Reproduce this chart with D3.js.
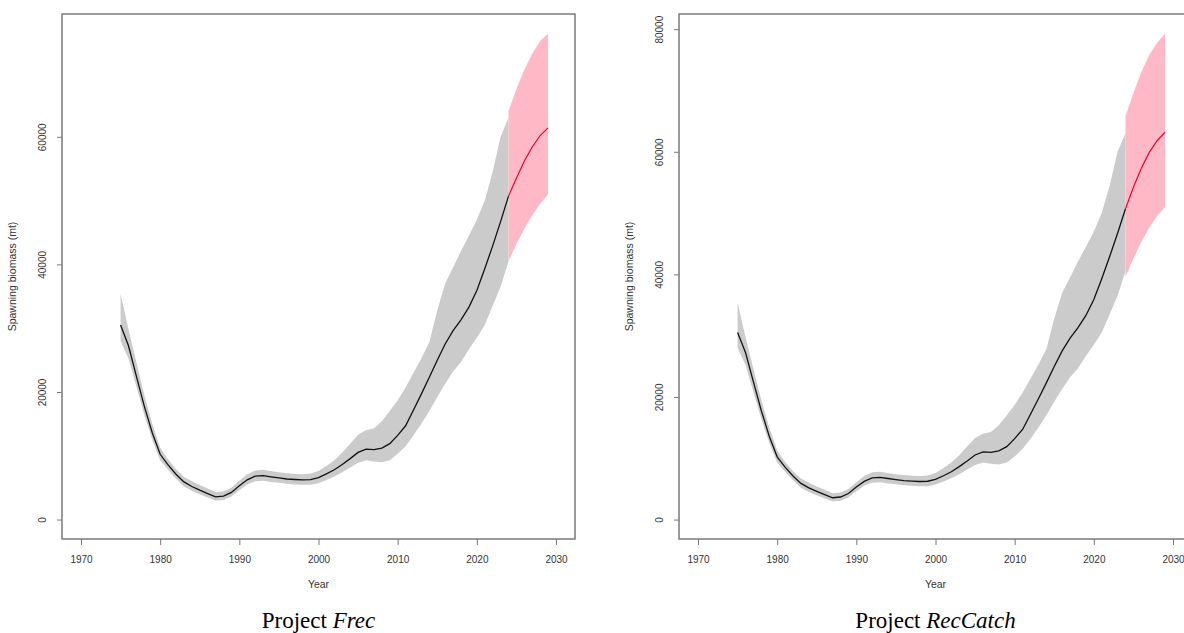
<!DOCTYPE html>
<html lang="en">
<head>
  <meta charset="utf-8">
  <title>Spawning biomass projections</title>
  <style>
    body { margin: 0; background: #fff; }
    .tick text { font-family: "Liberation Sans", Arial, sans-serif; font-size: 10px; fill: #333; }
    .tick line { stroke: #777; stroke-width: 1px; }
    .axis-title { font-family: "Liberation Sans", Arial, sans-serif; font-size: 10.5px; fill: #333; }
    .caption { font-family: "Liberation Serif", "Times New Roman", serif; font-size: 23px; fill: #000; }
  </style>
</head>
<body>
  <script src="https://d3js.org/d3.v7.min.js"></script>
  <svg></svg>
  <script>

// Assessment years (historical estimate, shared by both projections)
var histYears = [1975, 1976, 1977, 1978, 1979, 1980, 1981, 1982, 1983, 1984,
                 1985, 1986, 1987, 1988, 1989, 1990, 1991, 1992, 1993, 1994,
                 1995, 1996, 1997, 1998, 1999, 2000, 2001, 2002, 2003, 2004,
                 2005, 2006, 2007, 2008, 2009, 2010, 2011, 2012, 2013, 2014,
                 2015, 2016, 2017, 2018, 2019, 2020, 2021, 2022, 2023, 2024];

// Spawning biomass (mt), point estimate
var histSSB = [30500, 27250, 22450, 17750, 13600, 10230, 8560, 7100, 5900, 5180,
               4600, 4070, 3560, 3680, 4250, 5300, 6230, 6800, 6890, 6700,
               6520, 6360, 6280, 6210, 6250, 6570, 7150, 7800, 8630, 9550,
               10530, 11050, 10950, 11200, 11900, 13200, 14700, 17180, 19700, 22300,
               24960, 27520, 29610, 31300, 33300, 35900, 39300, 42900, 46700, 50700];

// confidence band
var histUpper = [35400, 29800, 24600, 19500, 15000, 11300, 9400, 7900, 6700, 6000,
                 5400, 4850, 4300, 4400, 5000, 6100, 7100, 7700, 7800, 7600,
                 7400, 7250, 7150, 7100, 7200, 7600, 8400, 9300, 10500, 11900,
                 13300, 14000, 14300, 15400, 17000, 18700, 20700, 23000, 25300, 27800,
                 32800, 37000, 39500, 42100, 44500, 47000, 50000, 54500, 60000, 63000];
var histLower = [28000, 25200, 20800, 16400, 12500, 9300, 7800, 6400, 5200, 4500,
                 3950, 3450, 2950, 3050, 3600, 4600, 5500, 6000, 6100, 5900,
                 5750, 5600, 5500, 5450, 5450, 5700, 6200, 6750, 7400, 8150,
                 8900, 9300, 9100, 9000, 9300, 10300, 11500, 13200, 15000, 17000,
                 19200, 21300, 23200, 24700, 26700, 28500, 30500, 33500, 36500, 40500];

// Projection years
var projYears = [2024, 2025, 2026, 2027, 2028, 2029];

// Project Frec
var frecSSB   = [50700, 53500, 56200, 58400, 60200, 61400];
var frecUpper = [64000, 67500, 70500, 73000, 75000, 76200];
var frecLower = [40500, 43200, 45600, 47700, 49500, 51000];

// Project RecCatch
var recSSB   = [50700, 54200, 57300, 59900, 61800, 63200];
var recUpper = [65800, 69600, 73000, 75800, 77800, 79300];
var recLower = [39600, 42600, 45300, 47600, 49500, 51000];

// Tick labels
var xTicks = [1970, 1980, 1990, 2000, 2010, 2020, 2030];
var yTicksFrec = [0, 20000, 40000, 60000];
var yTicksRec = [0, 20000, 40000, 60000, 80000];

var width = 1184, height = 633;
var plotTop = 14, plotBottom = 539, plotWidth = 513;

var svg = d3.select('svg')
            .attr('width', width)
            .attr('height', height);

svg.append('rect')
   .attr('width', width)
   .attr('height', height)
   .attr('fill', '#fff');

function zip(xs, a, b) {
  return xs.map(function(d, i) { return {year: d, v0: a[i], v1: b ? b[i] : null}; });
}

function drawPanel(left, caption, proj, yTicks) {
  var g = svg.append('g');

  // R style 4% padding on both axes
  var xScale = d3.scaleLinear()
                 .domain([1970 - 2.4, 2030 + 2.4])
                 .range([left, left + plotWidth]);
  var yMax = d3.max(proj.upper);
  var yScale = d3.scaleLinear()
                 .domain([-0.04 * yMax, 1.04 * yMax])
                 .range([plotBottom, plotTop]);

  var area = d3.area()
               .x(function(d) { return xScale(d.year); })
               .y0(function(d) { return yScale(d.v0); })
               .y1(function(d) { return yScale(d.v1); });
  var line = d3.line()
               .x(function(d) { return xScale(d.year); })
               .y(function(d) { return yScale(d.v0); });

  // grey band for the assessment, pink for the projection
  g.append('path')
   .datum(zip(histYears, histLower, histUpper))
   .attr('d', area)
   .attr('fill', '#cbcbcb');
  g.append('path')
   .datum(zip(projYears, proj.lower, proj.upper))
   .attr('d', area)
   .attr('fill', '#ffb8c6');

  g.append('path')
   .datum(zip(histYears, histSSB))
   .attr('d', line)
   .attr('fill', 'none')
   .attr('stroke', '#111')
   .attr('stroke-width', 1.3);
  g.append('path')
   .datum(zip(projYears, proj.ssb))
   .attr('d', line)
   .attr('fill', 'none')
   .attr('stroke', '#f0002a')
   .attr('stroke-width', 1.2);

  // box
  g.append('rect')
   .attr('x', left)
   .attr('y', plotTop)
   .attr('width', plotWidth)
   .attr('height', plotBottom - plotTop)
   .attr('fill', 'none')
   .attr('stroke', '#7a7a7a')
   .attr('stroke-width', 1.5);

  // X axis
  var xAxis = g.append('g')
               .attr('transform', 'translate(0,' + plotBottom + ')')
               .call(d3.axisBottom(xScale).tickValues(xTicks).tickFormat(d3.format('d')).tickSize(6).tickPadding(11));
  xAxis.select('.domain').remove();

  // Y axis, labels turned like R's las=0
  var yAxis = g.append('g')
               .attr('transform', 'translate(' + left + ',0)')
               .call(d3.axisLeft(yScale).tickValues(yTicks).tickFormat(d3.format('d')).tickSize(5));
  yAxis.select('.domain').remove();
  yAxis.selectAll('text')
       .attr('x', null)
       .attr('dy', null)
       .attr('text-anchor', 'middle')
       .attr('transform', 'translate(-16,0) rotate(-90)');

  g.append('text')
   .attr('class', 'axis-title')
   .attr('x', left + plotWidth / 2)
   .attr('y', 588)
   .attr('text-anchor', 'middle')
   .text('Year');

  g.append('text')
   .attr('class', 'axis-title')
   .attr('transform', 'translate(' + (left - 46) + ',' + ((plotTop + plotBottom) / 2) + ') rotate(-90)')
   .attr('text-anchor', 'middle')
   .text('Spawning biomass (mt)');

  var cap = g.append('text')
             .attr('class', 'caption')
             .attr('x', left + plotWidth / 2)
             .attr('y', 628)
             .attr('text-anchor', 'middle');
  cap.append('tspan').text('Project ');
  cap.append('tspan').attr('font-style', 'italic').text(caption);
}

drawPanel(62, 'Frec', {ssb: frecSSB, upper: frecUpper, lower: frecLower}, yTicksFrec);
drawPanel(679, 'RecCatch', {ssb: recSSB, upper: recUpper, lower: recLower}, yTicksRec);

  </script>
</body>
</html>
